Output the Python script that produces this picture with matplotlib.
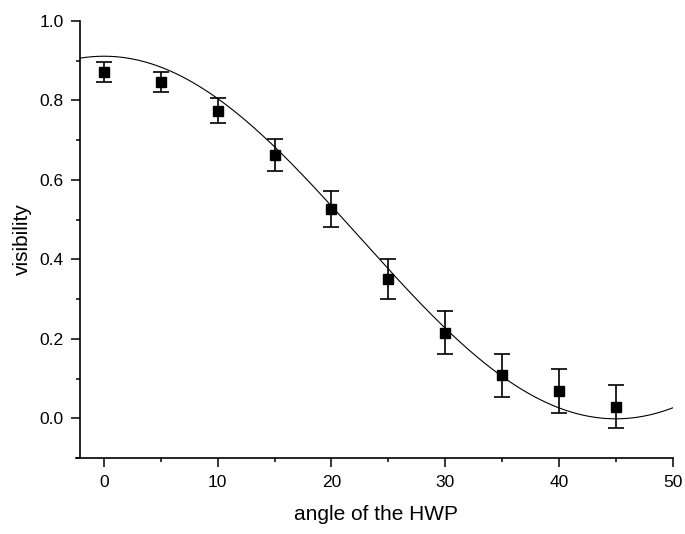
import numpy as np
import matplotlib
matplotlib.use("Agg")
import matplotlib.pyplot as plt

# data
angle = [0, 5, 10, 15, 20, 25, 30, 35, 40, 45]
visibility = [0.871, 0.846, 0.774, 0.663, 0.526, 0.350, 0.216, 0.108, 0.069, 0.029]
visibility_err = [0.025, 0.026, 0.032, 0.040, 0.045, 0.050, 0.054, 0.055, 0.055, 0.054]

# fitted model: y = y0 + A * cos^2(2*(x - xc)) (degrees)
fit_A = 0.912
fit_y0 = -0.001
fit_xc = 0.0

x_ticks = [0, 10, 20, 30, 40, 50]
y_ticks = [0.0, 0.2, 0.4, 0.6, 0.8, 1.0]

plt.rcParams['font.family'] = ['Liberation Sans', 'DejaVu Sans']

fig = plt.figure(figsize=(6.85, 5.34), dpi=100)
ax = fig.add_axes([0.117, 0.142, 0.865, 0.819])

xf = np.linspace(-2.1, 50, 400)
yf = fit_y0 + fit_A * np.cos(np.radians(2 * (xf - fit_xc))) ** 2
ax.plot(xf, yf, color='black', lw=0.8, zorder=2)

ax.errorbar(angle, visibility, yerr=visibility_err, fmt='s', color='black',
            ms=6.8, elinewidth=1.2, capsize=5.5, capthick=1.2, zorder=3)

ax.set_xlim(-2.1, 50)
ax.set_ylim(-0.1, 1.0)
ax.set_xticks(x_ticks)
ax.set_xticks([5, 15, 25, 35, 45], minor=True)
ax.set_yticks(y_ticks)
ax.set_yticks([-0.1, 0.1, 0.3, 0.5, 0.7, 0.9], minor=True)
ax.set_xticklabels([str(v) for v in x_ticks])
ax.set_yticklabels([f"{v:.1f}" for v in y_ticks])

for s in ['top', 'right']:
    ax.spines[s].set_visible(False)
for s in ['left', 'bottom']:
    ax.spines[s].set_linewidth(1.2)
ax.spines['bottom'].set_bounds(-2.5, 50)

ax.tick_params(which='major', direction='out', length=6.5, width=1.1, labelsize=12.5, pad=5.5)
ax.tick_params(which='minor', direction='out', length=3, width=1.1)

ax.set_xlabel('angle of the HWP', fontsize=15, labelpad=11)
ax.set_ylabel('visibility', fontsize=15, labelpad=5)

fig.savefig('out.png', dpi=100)
